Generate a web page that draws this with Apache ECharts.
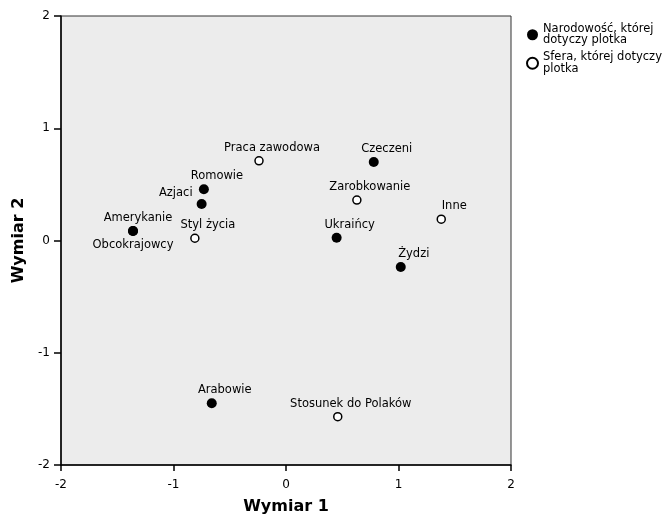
<!DOCTYPE html>
<html>
<head>
<meta charset="utf-8">
<script src="https://cdn.jsdelivr.net/npm/echarts@6/dist/echarts.min.js"></script>
<style>html,body{margin:0;padding:0;background:#fff}#c{width:666px;height:516px}</style>
</head>
<body>
<div id="c"></div>
<script>
// Data
const narNames = ['Amerykanie', 'Obcokrajowcy', 'Azjaci', 'Romowie', 'Czeczeni', 'Ukraińcy', 'Żydzi', 'Arabowie'];
const narX = [-1.36, -1.36, -0.75, -0.73, 0.78, 0.45, 1.02, -0.66];
const narY = [0.085, 0.085, 0.325, 0.456, 0.70, 0.025, -0.236, -1.45];
const sfNames = ['Styl życia', 'Praca zawodowa', 'Zarobkowanie', 'Inne', 'Stosunek do Polaków'];
const sfX = [-0.81, -0.24, 0.63, 1.38, 0.46];
const sfY = [0.02, 0.71, 0.36, 0.19, -1.57];
const seriesNames = ['Narodowość, której\ndotyczy plotka', 'Sfera, której dotyczy\nplotka'];
const xTicks = [-2, -1, 0, 1, 2];
const yTicks = [-2, -1, 0, 1, 2];

// Label placement (style only)
const labelStyle = {
  'Amerykanie': {position: 'top', distance: 2, offset: [5, 0]},
  'Obcokrajowcy': {position: 'bottom', distance: 3, offset: [0, 0]},
  'Azjaci': {position: 'left', distance: 4, offset: [0, -11]}
};
const FONT = 'DejaVu Sans';
function mk(names, xs, ys) {
  return names.map((n, i) => {
    const ls = labelStyle[n] || {position: 'top', distance: 2, offset: [13, 0]};
    return {name: n, value: [xs[i], ys[i]], label: Object.assign({show: true, formatter: n}, ls)};
  });
}
const labelCommon = {show: true, fontFamily: FONT, fontSize: 11.5, color: '#000', fontWeight: 'normal'};

const chart = echarts.init(document.getElementById('c'), null, {renderer: 'canvas'});
chart.setOption({
  animation: false,
  backgroundColor: '#fff',
  textStyle: {fontFamily: FONT},
  grid: {left: 61, right: 155, top: 16, bottom: 51, outerBoundsMode: 'none', containLabel: false,
    show: true, backgroundColor: '#ececec', borderColor: '#333', borderWidth: 1},
  legend: {
    orient: 'vertical', left: 521, top: 18, itemGap: 5, itemWidth: 11, itemHeight: 11,
    textStyle: {fontFamily: FONT, fontSize: 11.5, color: '#000', lineHeight: 11.5},
    data: [
      {name: seriesNames[0], icon: 'circle'},
      {name: seriesNames[1], icon: 'circle'}
    ]
  },
  xAxis: {
    type: 'value', min: -2, max: 2, interval: 1,
    name: 'Wymiar 1', nameLocation: 'middle', nameGap: 34,
    nameTextStyle: {fontFamily: FONT, fontSize: 16, fontWeight: 'bold', color: '#000'},
    axisLine: {show: true, onZero: false, lineStyle: {color: '#000', width: 1.5}},
    axisTick: {show: true, length: 6, lineStyle: {color: '#000', width: 1.5}},
    axisLabel: {fontFamily: FONT, fontSize: 12, color: '#000', margin: 14,
      formatter: v => xTicks.includes(v) ? String(v) : ''},
    splitLine: {show: false}
  },
  yAxis: {
    type: 'value', min: -2, max: 2, interval: 1,
    name: 'Wymiar 2', nameLocation: 'middle', nameGap: 29, nameRotate: 90,
    nameTextStyle: {fontFamily: FONT, fontSize: 16, fontWeight: 'bold', color: '#000'},
    axisLine: {show: true, onZero: false, lineStyle: {color: '#000', width: 1.5}},
    axisTick: {show: true, length: 7, lineStyle: {color: '#000', width: 1.5}},
    axisLabel: {fontFamily: FONT, fontSize: 12, color: '#000', margin: 11,
      formatter: v => yTicks.includes(v) ? String(v) : ''},
    splitLine: {show: false}
  },
  series: [
    {
      name: seriesNames[0], type: 'scatter', symbol: 'circle', symbolSize: 10,
      itemStyle: {color: '#000', opacity: 1},
      label: labelCommon,
      data: mk(narNames, narX, narY)
    },
    {
      name: seriesNames[1], type: 'scatter', symbol: 'circle', symbolSize: 8,
      itemStyle: {color: '#fff', borderColor: '#000', borderWidth: 1.5, opacity: 1},
      label: labelCommon,
      data: mk(sfNames, sfX, sfY)
    }
  ]
});
</script>
</body>
</html>
